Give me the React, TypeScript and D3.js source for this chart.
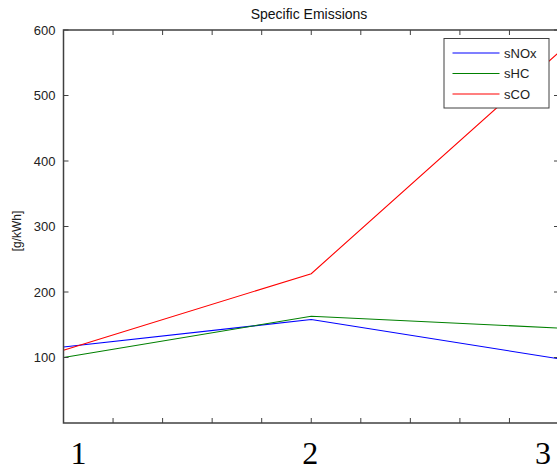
import React from "react";
import * as d3 from "d3";

const xCats = [1, 2, 3];
const sNOx = [116, 158, 98];
const sHC = [100, 163, 145];
const sCO = [111, 228, 566];
const yTicks = [100, 200, 300, 400, 500, 600];
const xTickLabels = ["1", "2", "3"];
const seriesNames = ["sNOx", "sHC", "sCO"];
const seriesColors = ["#0000ff", "#008000", "#ff0000"];

const W = 557;
const H = 470;

export default function App() {
  const x = d3.scaleLinear().domain([1, 3]).range([63.5, 559]);
  const y = d3.scaleLinear().domain([0, 600]).range([423, 30]);
  const all = [sNOx, sHC, sCO];
  const line = d3
    .line<number>()
    .x((_, i) => x(xCats[i]))
    .y((d) => y(d));
  const minor = d3.range(0, 11).map((i) => 1 + i * 0.2);
  const axisColor = "#404040";
  const labelOffsets = [15, -1, -16];
  const legX = 444, legY = 38.5, legW = 105, legH = 69.5;
  return (
    <svg
      width={W}
      height={H}
      style={{ position: "absolute", left: 0, top: 0, background: "#fff" }}
      fontFamily="'Liberation Sans', Arial, sans-serif"
    >
      <defs>
        <clipPath id="plot">
          <rect x={x(1)} y={y(600)} width={x(3) - x(1)} height={y(0) - y(600)} />
        </clipPath>
      </defs>
      <rect x={0} y={0} width={W} height={H} fill="#fff" />
      <text x={309} y={19} textAnchor="middle" fontSize={14} fill="#111">
        Specific Emissions
      </text>
      {/* series */}
      <g clipPath="url(#plot)">
        {all.map((s, k) => (
          <path key={k} d={line(s) || ""} fill="none" stroke={seriesColors[k]} strokeWidth={1.1} />
        ))}
      </g>
      {/* frame */}
      <rect
        x={x(1)}
        y={y(600)}
        width={x(3) - x(1)}
        height={y(0) - y(600)}
        fill="none"
        stroke={axisColor}
        strokeWidth={1.5}
      />
      {/* x minor ticks */}
      {minor.map((v, i) => (
        <g key={i}>
          <line x1={x(v)} x2={x(v)} y1={y(600)} y2={y(600) + 5} stroke={axisColor} />
          <line x1={x(v)} x2={x(v)} y1={y(0)} y2={y(0) - 5} stroke={axisColor} />
        </g>
      ))}
      {/* y ticks */}
      {yTicks.map((v) => (
        <g key={v}>
          <line x1={x(1)} x2={x(1) + 5} y1={y(v)} y2={y(v)} stroke={axisColor} />
          <line x1={x(3)} x2={x(3) - 5} y1={y(v)} y2={y(v)} stroke={axisColor} />
          <text x={x(1) - 8} y={y(v) + 4.5} textAnchor="end" fontSize={13} fill="#222">
            {v}
          </text>
        </g>
      ))}
      <text
        transform={`translate(21,231) rotate(-90)`}
        textAnchor="middle"
        fontSize={12}
        fill="#222"
      >
        [g/kWh]
      </text>
      {/* big x labels */}
      {xCats.map((c, i) => (
        <text
          key={c}
          x={x(c) + labelOffsets[i]}
          y={464}
          textAnchor="middle"
          fontSize={32}
          fontFamily="'Liberation Serif', 'Times New Roman', serif"
          fill="#000"
        >
          {xTickLabels[i]}
        </text>
      ))}
      {/* legend */}
      <rect x={legX} y={legY} width={legW} height={legH} fill="#fff" stroke={axisColor} strokeWidth={1} />
      {seriesNames.map((n, k) => (
        <g key={n}>
          <line
            x1={452.5}
            x2={499.5}
            y1={53 + k * 20.5}
            y2={53 + k * 20.5}
            stroke={seriesColors[k]}
            strokeWidth={1.1}
          />
          <text x={504} y={57.5 + k * 20.5} fontSize={13} fill="#222">
            {n}
          </text>
        </g>
      ))}
    </svg>
  );
}
